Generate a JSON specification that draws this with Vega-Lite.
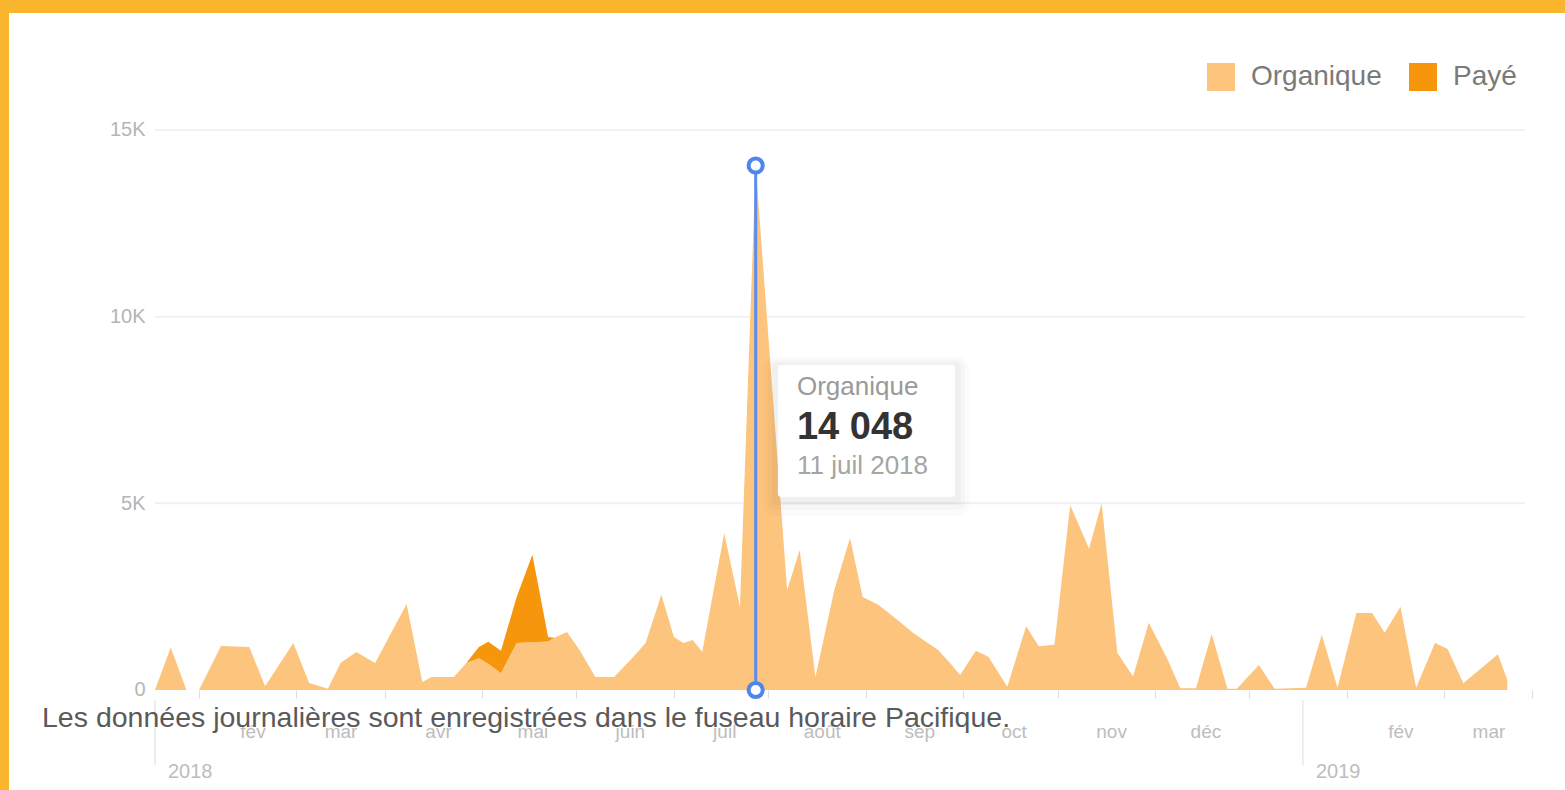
{
  "$schema": "https://vega.github.io/schema/vega-lite/v6.json",
  "width": 1556,
  "height": 777,
  "autosize": {"type": "none"},
  "padding": {"left": 9, "top": 13, "right": 0, "bottom": 0},
  "background": "#F9B52B",
  "config": {
    "font": "Liberation Sans",
    "view": {"fill": "white", "stroke": null}
  },
  "data": {
    "values": [
      {"date": "2018-01-01", "Organique": 0, "Payé": 0},
      {"date": "2018-01-06", "Organique": 1140, "Payé": 0},
      {"date": "2018-01-11", "Organique": 0, "Payé": 0},
      {"date": "2018-01-15", "Organique": 0, "Payé": 0},
      {"date": "2018-01-22", "Organique": 1180, "Payé": 0},
      {"date": "2018-01-31", "Organique": 1150, "Payé": 0},
      {"date": "2018-02-05", "Organique": 100, "Payé": 0},
      {"date": "2018-02-14", "Organique": 1260, "Payé": 0},
      {"date": "2018-02-19", "Organique": 190, "Payé": 0},
      {"date": "2018-02-25", "Organique": 30, "Payé": 0},
      {"date": "2018-03-01", "Organique": 720, "Payé": 0},
      {"date": "2018-03-06", "Organique": 1020, "Payé": 0},
      {"date": "2018-03-12", "Organique": 720, "Payé": 0},
      {"date": "2018-03-22", "Organique": 2300, "Payé": 0},
      {"date": "2018-03-27", "Organique": 215, "Payé": 0},
      {"date": "2018-03-30", "Organique": 350, "Payé": 0},
      {"date": "2018-04-06", "Organique": 350, "Payé": 0},
      {"date": "2018-04-10", "Organique": 720, "Payé": 0},
      {"date": "2018-04-14", "Organique": 850, "Payé": 300},
      {"date": "2018-04-17", "Organique": 700, "Payé": 590},
      {"date": "2018-04-21", "Organique": 450, "Payé": 600},
      {"date": "2018-04-26", "Organique": 1260, "Payé": 1230},
      {"date": "2018-05-01", "Organique": 1280, "Payé": 2340},
      {"date": "2018-05-06", "Organique": 1300, "Payé": 120},
      {"date": "2018-05-08", "Organique": 1400, "Payé": 0},
      {"date": "2018-05-12", "Organique": 1550, "Payé": 0},
      {"date": "2018-05-16", "Organique": 1070, "Payé": 0},
      {"date": "2018-05-21", "Organique": 350, "Payé": 0},
      {"date": "2018-05-27", "Organique": 350, "Payé": 0},
      {"date": "2018-06-02", "Organique": 880, "Payé": 0},
      {"date": "2018-06-06", "Organique": 1260, "Payé": 0},
      {"date": "2018-06-11", "Organique": 2550, "Payé": 0},
      {"date": "2018-06-15", "Organique": 1420, "Payé": 0},
      {"date": "2018-06-18", "Organique": 1260, "Payé": 0},
      {"date": "2018-06-21", "Organique": 1340, "Payé": 0},
      {"date": "2018-06-24", "Organique": 1020, "Payé": 0},
      {"date": "2018-07-01", "Organique": 4200, "Payé": 0},
      {"date": "2018-07-06", "Organique": 2220, "Payé": 0},
      {"date": "2018-07-11", "Organique": 14048, "Payé": 0},
      {"date": "2018-07-21", "Organique": 2680, "Payé": 0},
      {"date": "2018-07-25", "Organique": 3750, "Payé": 0},
      {"date": "2018-07-30", "Organique": 350, "Payé": 0},
      {"date": "2018-08-05", "Organique": 2680, "Payé": 0},
      {"date": "2018-08-10", "Organique": 4070, "Payé": 0},
      {"date": "2018-08-14", "Organique": 2490, "Payé": 0},
      {"date": "2018-08-19", "Organique": 2280, "Payé": 0},
      {"date": "2018-08-25", "Organique": 1880, "Payé": 0},
      {"date": "2018-08-30", "Organique": 1530, "Payé": 0},
      {"date": "2018-09-07", "Organique": 1070, "Payé": 0},
      {"date": "2018-09-11", "Organique": 700, "Payé": 0},
      {"date": "2018-09-14", "Organique": 400, "Payé": 0},
      {"date": "2018-09-19", "Organique": 1050, "Payé": 0},
      {"date": "2018-09-23", "Organique": 890, "Payé": 0},
      {"date": "2018-09-29", "Organique": 90, "Payé": 0},
      {"date": "2018-10-05", "Organique": 1710, "Payé": 0},
      {"date": "2018-10-09", "Organique": 1170, "Payé": 0},
      {"date": "2018-10-14", "Organique": 1215, "Payé": 0},
      {"date": "2018-10-19", "Organique": 4950, "Payé": 0},
      {"date": "2018-10-25", "Organique": 3780, "Payé": 0},
      {"date": "2018-10-29", "Organique": 5000, "Payé": 0},
      {"date": "2018-11-03", "Organique": 990, "Payé": 0},
      {"date": "2018-11-08", "Organique": 360, "Payé": 0},
      {"date": "2018-11-13", "Organique": 1800, "Payé": 0},
      {"date": "2018-11-19", "Organique": 810, "Payé": 0},
      {"date": "2018-11-23", "Organique": 45, "Payé": 0},
      {"date": "2018-11-28", "Organique": 45, "Payé": 0},
      {"date": "2018-12-03", "Organique": 1500, "Payé": 0},
      {"date": "2018-12-08", "Organique": 30, "Payé": 0},
      {"date": "2018-12-11", "Organique": 30, "Payé": 0},
      {"date": "2018-12-18", "Organique": 670, "Payé": 0},
      {"date": "2018-12-23", "Organique": 30, "Payé": 0},
      {"date": "2019-01-02", "Organique": 60, "Payé": 0},
      {"date": "2019-01-07", "Organique": 1480, "Payé": 0},
      {"date": "2019-01-12", "Organique": 60, "Payé": 0},
      {"date": "2019-01-18", "Organique": 2060, "Payé": 0},
      {"date": "2019-01-23", "Organique": 2060, "Payé": 0},
      {"date": "2019-01-27", "Organique": 1530, "Payé": 0},
      {"date": "2019-02-01", "Organique": 2230, "Payé": 0},
      {"date": "2019-02-06", "Organique": 60, "Payé": 0},
      {"date": "2019-02-12", "Organique": 1260, "Payé": 0},
      {"date": "2019-02-16", "Organique": 1100, "Payé": 0},
      {"date": "2019-02-21", "Organique": 180, "Payé": 0},
      {"date": "2019-03-04", "Organique": 960, "Payé": 0},
      {"date": "2019-03-07", "Organique": 270, "Payé": 0}
    ]
  },
  "layer": [
    {
      "data": {"values": [{"g": 5000}, {"g": 10000}, {"g": 15000}]},
      "mark": {"type": "rule", "color": "#f1f1f1", "strokeWidth": 2},
      "encoding": {
        "x": {"datum": {"year": 2018, "month": 1, "date": 1, "utc": true}, "type": "temporal", "scale": {"type": "utc", "domain": [{"year": 2017, "month": 11, "date": 15, "hours": 14, "utc": true}, {"year": 2019, "month": 3, "date": 25, "hours": 8, "utc": true}]}},
        "x2": {"datum": {"year": 2019, "month": 3, "date": 12, "hours": 14, "utc": true}},
        "y": {
          "field": "g", "type": "quantitative",
          "scale": {"domain": [-2679, 18134], "nice": false, "zero": false},
          "axis": {
            "orient": "left", "offset": -145, "title": null, "domain": false, "grid": false,
            "ticks": false, "tickSize": 0, "values": [0, 5000, 10000, 15000],
            "labelExpr": "datum.value == 0 ? '0' : (datum.value / 1000) + 'K'",
            "labelPadding": 9, "labelFontSize": 20, "labelColor": "#b5b5b5",
            "labelOverlap": false, "labelBound": false
          }
        }
      }
    },
    {
      "transform": [{"fold": ["Organique", "Payé"], "as": ["type", "value"]}],
      "mark": {"type": "area", "opacity": 1, "interpolate": "linear"},
      "encoding": {
        "x": {
          "field": "date", "type": "temporal",
          "axis": {
            "orient": "bottom", "offset": -100, "title": null, "domain": false, "grid": false,
            "values": [
              {"year": 2018, "month": 1, "date": 1, "utc": true},
              {"year": 2018, "month": 2, "date": 1, "utc": true},
              {"year": 2018, "month": 3, "date": 1, "utc": true},
              {"year": 2018, "month": 4, "date": 1, "utc": true},
              {"year": 2018, "month": 5, "date": 1, "utc": true},
              {"year": 2018, "month": 6, "date": 1, "utc": true},
              {"year": 2018, "month": 7, "date": 1, "utc": true},
              {"year": 2018, "month": 8, "date": 1, "utc": true},
              {"year": 2018, "month": 9, "date": 1, "utc": true},
              {"year": 2018, "month": 10, "date": 1, "utc": true},
              {"year": 2018, "month": 11, "date": 1, "utc": true},
              {"year": 2018, "month": 12, "date": 1, "utc": true},
              {"year": 2019, "month": 1, "date": 1, "utc": true},
              {"year": 2019, "month": 2, "date": 1, "utc": true},
              {"year": 2019, "month": 3, "date": 1, "utc": true}
            ],
            "labelExpr": "['','fév','mar','avr','mai','juin','juil','août','sep','oct','nov','déc'][utcmonth(datum.value)]",
            "ticks": true, "tickSize": 8, "tickColor": "#dddddd", "tickWidth": 1,
            "tickOffset": 44, "labelOffset": -44,
            "labelPadding": 33, "labelBaseline": "middle", "labelAlign": "center",
            "labelFontSize": 19, "labelColor": "#bdbdbd",
            "labelOverlap": false, "labelFlush": false, "labelBound": false
          }
        },
        "y": {
          "field": "value", "type": "quantitative", "stack": "zero",
          "axis": {
            "orient": "left", "offset": -145, "title": null, "domain": false, "grid": false,
            "ticks": false, "tickSize": 0, "values": [0, 5000, 10000, 15000],
            "labelExpr": "datum.value == 0 ? '0' : (datum.value / 1000) + 'K'",
            "labelPadding": 9, "labelFontSize": 20, "labelColor": "#b5b5b5",
            "labelOverlap": false, "labelBound": false
          }
        },
        "color": {
          "field": "type", "type": "nominal",
          "scale": {"domain": ["Organique", "Payé"], "range": ["#FCC47C", "#F5960C"]},
          "legend": {
            "orient": "none", "legendX": 1198, "legendY": 50, "direction": "horizontal",
            "title": null, "symbolType": "square", "symbolSize": 784, "symbolStrokeWidth": 0,
            "symbolOpacity": 1, "labelFontSize": 28, "labelColor": "#7a7a7a",
            "labelOffset": 16, "columnPadding": 27, "padding": 0
          }
        },
        "order": {"field": "type", "sort": "ascending"}
      }
    },
    {
      "data": {"values": [{"label": "2018", "date": "2018-01-01"}, {"label": "2019", "date": "2019-01-01"}]},
      "mark": {"type": "rule", "color": "#dcdcdc", "strokeWidth": 1},
      "encoding": {
        "x": {"field": "date", "type": "temporal"},
        "y": {"datum": -268},
        "y2": {"datum": -2009}
      }
    },
    {
      "data": {"values": [{"label": "2018", "date": "2018-01-01"}, {"label": "2019", "date": "2019-01-01"}]},
      "mark": {"type": "text", "align": "left", "baseline": "middle", "dx": 13, "fontSize": 20, "color": "#bdbdbd"},
      "encoding": {
        "x": {"field": "date", "type": "temporal"},
        "y": {"datum": -2196},
        "text": {"field": "label"}
      }
    },
    {
      "data": {"values": [{}]},
      "mark": {"type": "rule", "color": "#5B8CEE", "strokeWidth": 3},
      "encoding": {
        "x": {"datum": {"year": 2018, "month": 7, "date": 11, "utc": true}, "type": "temporal"},
        "y": {"datum": 0},
        "y2": {"datum": 14048}
      }
    },
    {
      "data": {"values": [{"date": "2018-07-11", "v": 14048}, {"date": "2018-07-11", "v": 0}]},
      "mark": {"type": "point", "shape": "circle", "filled": false, "fill": "white", "fillOpacity": 1, "stroke": "#4F86EC", "strokeWidth": 4, "size": 200, "opacity": 1},
      "encoding": {
        "x": {"field": "date", "type": "temporal"},
        "y": {"field": "v", "type": "quantitative"}
      }
    },
    {
      "data": {"values": [{}]},
      "mark": {"type": "rect", "color": "black", "opacity": 0.015, "cornerRadius": 12},
      "encoding": {
        "x": {"datum": {"year": 2018, "month": 7, "date": 13, "hours": 12, "utc": true}, "type": "temporal"},
        "x2": {"datum": {"year": 2018, "month": 9, "date": 17, "hours": 0, "utc": true}},
        "y": {"datum": 8920},
        "y2": {"datum": 4660}
      }
    },
    {
      "data": {"values": [{}]},
      "mark": {"type": "rect", "color": "black", "opacity": 0.02, "cornerRadius": 8},
      "encoding": {
        "x": {"datum": {"year": 2018, "month": 7, "date": 14, "hours": 22, "utc": true}, "type": "temporal"},
        "x2": {"datum": {"year": 2018, "month": 9, "date": 15, "hours": 14, "utc": true}},
        "y": {"datum": 8839},
        "y2": {"datum": 4821}
      }
    },
    {
      "data": {"values": [{}]},
      "mark": {"type": "rect", "color": "black", "opacity": 0.025, "cornerRadius": 5},
      "encoding": {
        "x": {"datum": {"year": 2018, "month": 7, "date": 16, "hours": 5, "utc": true}, "type": "temporal"},
        "x2": {"datum": {"year": 2018, "month": 9, "date": 14, "hours": 7, "utc": true}},
        "y": {"datum": 8786},
        "y2": {"datum": 4955}
      }
    },
    {
      "data": {"values": [{}]},
      "mark": {"type": "rect", "color": "white", "opacity": 1, "cornerRadius": 3},
      "encoding": {
        "x": {"datum": {"year": 2018, "month": 7, "date": 18, "hours": 2, "utc": true}, "type": "temporal"},
        "x2": {"datum": {"year": 2018, "month": 9, "date": 12, "hours": 9, "utc": true}},
        "y": {"datum": 8705},
        "y2": {"datum": 5170}
      }
    },
    {
      "data": {"values": [{"t": "Organique"}]},
      "mark": {"type": "text", "align": "left", "baseline": "middle", "fontSize": 26, "color": "#9a9a9a"},
      "encoding": {
        "x": {"datum": {"year": 2018, "month": 7, "date": 24, "hours": 3, "utc": true}, "type": "temporal"},
        "y": {"datum": 8116},
        "text": {"field": "t"}
      }
    },
    {
      "data": {"values": [{"t": "14 048"}]},
      "mark": {"type": "text", "align": "left", "baseline": "middle", "fontSize": 38, "fontWeight": "bold", "color": "#333333"},
      "encoding": {
        "x": {"datum": {"year": 2018, "month": 7, "date": 24, "hours": 3, "utc": true}, "type": "temporal"},
        "y": {"datum": 7018},
        "text": {"field": "t"}
      }
    },
    {
      "data": {"values": [{"t": "11 juil 2018"}]},
      "mark": {"type": "text", "align": "left", "baseline": "middle", "fontSize": 26, "color": "#a5a5a5"},
      "encoding": {
        "x": {"datum": {"year": 2018, "month": 7, "date": 24, "hours": 3, "utc": true}, "type": "temporal"},
        "y": {"datum": 6000},
        "text": {"field": "t"}
      }
    },
    {
      "data": {"values": [{"t": "Les données journalières sont enregistrées dans le fuseau horaire Pacifique."}]},
      "mark": {"type": "text", "align": "left", "baseline": "middle", "fontSize": 28.5, "color": "#5a5a5a"},
      "encoding": {
        "x": {"datum": {"year": 2017, "month": 11, "date": 26, "hours": 2, "utc": true}, "type": "temporal"},
        "y": {"datum": -750},
        "text": {"field": "t"}
      }
    }
  ]
}
